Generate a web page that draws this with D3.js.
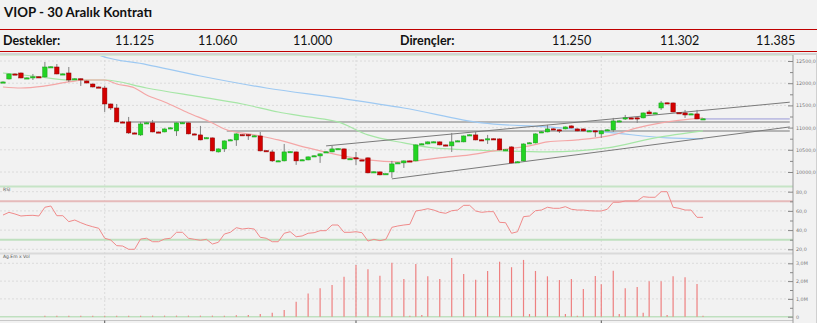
<!DOCTYPE html>
<html>
<head>
<meta charset="utf-8">
<script src="https://cdn.jsdelivr.net/npm/d3@7"></script>
<style>
  body { margin: 0; background: #f2f2f2; }
  svg { display: block; font-family: Lato, sans-serif; }
</style>
</head>
<body>
<div id="chart"></div>
<script>
const title = "VIOP - 30 Aralık Kontratı";
const supportLabel = "Destekler:";
const resistLabel = "Dirençler:";
const supports = ["11.125", "11.060", "11.000"];
const resistances = ["11.250", "11.302", "11.385"];

// candles, one per bar
const opens = [
  12016,12095,12208,12230,12110,12140,12145,12140,12365,12365,
  12205,12230,12090,12100,12050,11982,11915,11892,11532,11442,
  11128,11128,10880,10835,11100,11105,10902,10902,10990,10925,
  11105,11105,10858,10835,10765,10768,10452,10520,10720,10722,
  10840,10840,10812,10812,10480,10452,10245,10250,10452,10452,
  10270,10272,10360,10362,10450,10452,10520,10520,10295,10320,
  10272,10318,9998,10002,9955,10002,10200,10205,10250,10250,
  10628,10632,10675,10678,10610,10588,10698,10678,10832,10835,
  10725,10742,10748,10745,10498,10565,10225,10250,10652,10655,
  10900,10902,10972,10950,10970,11038,10970,10970,10925,10928,
  10858,10945,10948,11148,11215,11218,11220,11218,11352,11328,
  11442,11558,11555,11335,11330,11305,11308,11192
];
const closes = [
  12028,12208,12200,12118,12120,12145,12135,12365,12370,12208,
  12210,12072,12100,12090,12005,11915,11905,11532,11442,11128,
  11120,10880,10870,11082,11108,10902,10895,10970,10995,11105,
  11110,10858,10850,10722,10772,10475,10520,10700,10725,10858,
  10830,10830,10815,10475,10470,10250,10252,10452,10458,10250,
  10275,10340,10365,10408,10455,10520,10525,10295,10300,10312,
  10268,9980,10005,9935,9962,10182,10208,10250,10242,10610,
  10635,10678,10680,10610,10588,10678,10702,10812,10838,10722,
  10718,10748,10742,10498,10502,10205,10230,10632,10658,10858,
  10905,10970,10965,10944,11015,10992,10925,10925,10928,10920,
  10925,10950,11150,11152,11220,11215,11212,11330,11308,11332,
  11555,11550,11352,11328,11285,11310,11195,11198
];
const highs = [
  12040,12219,12220,12240,12130,12208,12150,12478,12380,12432,
  12220,12365,12110,12105,12060,11990,11925,11938,11540,11532,
  11140,11240,10890,11128,11120,11172,10910,10980,11005,11115,
  11120,11115,10865,11038,10780,10775,10530,10710,10735,10870,
  10850,10850,10825,10902,10488,10498,10262,10632,10468,10460,
  10285,10350,10375,10418,10465,10588,10535,10530,10310,10452,
  10280,10328,10015,10010,9972,10250,10218,10260,10258,10620,
  10645,10688,10690,10688,10618,10880,10712,10822,10848,10902,
  10732,10835,10755,10755,10512,10575,10240,10642,10668,10868,
  10915,11060,10980,10958,11025,11048,10978,10978,10938,10935,
  10935,10960,11218,11162,11285,11228,11228,11340,11398,11342,
  11600,11565,11565,11342,11398,11318,11398,11205
];
const lows = [
  12005,12084,12195,12110,12100,12072,12125,12130,12355,12200,
  12195,12028,12080,11938,11995,11905,11895,11352,11398,11120,
  11110,10858,10860,10812,11090,10895,10885,10895,10980,10812,
  11095,10850,10840,10715,10755,10465,10440,10452,10712,10588,
  10820,10722,10800,10465,10460,10228,10238,10240,10445,10160,
  10262,10265,10352,10205,10442,10445,10512,10285,10288,10160,
  10260,9970,9990,9925,9948,9868,10192,10092,10235,10240,
  10620,10625,10668,10600,10580,10452,10690,10670,10825,10715,
  10710,10632,10735,10490,10490,10195,10218,10240,10645,10645,
  10892,10895,10958,10880,10962,10985,10918,10918,10918,10790,
  10768,10938,10902,11140,11172,11208,11105,11210,11300,11320,
  11398,11542,11345,11320,11218,11298,11188,11185
];

const rsi = [
  55.7,58.5,56.8,54.7,55.2,55.4,54.7,63.8,65.1,55.0,
  55.0,48.8,50.5,47.7,45.3,43.5,41.9,31.5,29.7,23.8,
  23.4,20.0,20.0,30.7,31.5,27.9,27.9,30.7,31.5,37.7,
  37.7,31.5,30.4,29.4,30.4,25.5,27.3,35.9,37.7,42.5,
  41.1,41.9,41.1,32.5,31.5,27.9,27.9,36.7,38.3,33.1,
  33.9,36.7,37.3,39.4,39.4,45.3,45.3,37.7,37.7,38.3,
  37.3,28.6,30.4,29.0,30.4,42.9,44.3,45.3,46.0,59.9,
  60.9,62.3,60.9,58.5,57.5,60.2,60.9,65.8,65.8,59.9,
  58.5,59.2,59.2,48.1,47.7,36.7,38.3,54.0,54.7,60.2,
  60.9,63.8,62.7,62.7,64.4,61.7,60.9,60.9,60.2,59.9,
  59.9,61.7,69.0,69.0,70.3,70.3,70.3,74.8,74.2,74.2,
  80.0,80.0,63.8,62.7,60.9,60.9,53.3,53.3
];

// volume in millions
const volume = [
  0,0,0,0,0,0,0,0.06,0,0.06,
  0,0.06,0,0.06,0,0.06,0,0.06,0,0.06,
  0,0.06,0,0.06,0,0.06,0,0.06,0,0.06,
  0,0.06,0,0.06,0,0.06,0,0.06,0,0.08,
  0,0.1,0,0.15,0,0.22,0,0.38,0,0.84,
  0,1.31,0,1.60,0,1.78,0,2.25,0,2.90,
  0,2.66,0,2.30,0,3.03,0,2.12,0.05,2.96,
  0.1,2.27,0,2.12,0,3.30,0,2.40,0,2.08,
  0,2.57,0,3.09,0,2.78,0,3.19,0.15,2.57,
  0,2.27,0,2.06,0.15,2.12,0.05,1.56,0,2.29,
  1.82,0,2.58,0.15,1.60,0,1.67,0.22,1.99,0,
  1.99,0.10,2.27,0,2.21,0,1.84,0.05
];

// moving averages as [bar, value]
const maFast = [[0,11915],[3,11892],[7,11938],[11,12028],[14,12072],[17,12072],[19,11982],[22,11892],[24,11735],[27,11578],[31,11330],[35,11105],[37,10970],[42,10835],[46,10722],[51,10542],[56,10385],[61,10272],[66,10228],[69,10250],[73,10318],[78,10385],[83,10498],[88,10588],[91,10678],[96,10722],[102,10835],[106,10992],[110,11105],[117,11218]];
const maMid = [[0,12230],[5,12162],[11,12072],[17,12072],[24,11892],[33,11690],[40,11532],[46,11352],[51,11240],[56,11128],[61,10835],[67,10655],[72,10542],[83,10475],[91,10452],[101,10542],[109,10768],[117,10925]];
const maSlow = [[15,12700],[16,12635],[24,12420],[33,12162],[44,11892],[56,11668],[67,11442],[80,11105],[91,11015],[102,10880],[111,10768],[117,10745]];

const trendLines = [
  [[54, 10588], [131.5, 11572]],
  [[65, 9845], [131.5, 11015]]
];
const levels = [[21, 11125], [37.4, 10925]];
const lastPrice = [[117, 11195], [131.5, 11195]];

const priceTicks = [10000, 10500, 11000, 11500, 12000, 12500];
const rsiTicks = [20, 40, 60, 80];
const volTicks = [0, 1, 2, 3];
const timeTicks = [17, 59, 100];

const width = 817, height = 323;
const axisX = 793;

const svg = d3.select("#chart").append("svg")
  .attr("width", width).attr("height", height);

svg.append("rect").attr("width", width).attr("height", height).attr("fill", "#f2f2f2");

// header
svg.append("text").attr("x", 4).attr("y", 17)
  .attr("font-size", 13.3).attr("font-weight", "bold").attr("fill", "#111")
  .text(title);

svg.append("line").attr("x1", 0).attr("x2", width).attr("y1", 29.5).attr("y2", 29.5)
  .attr("stroke", "#c00000").attr("stroke-width", 1.2);
svg.append("line").attr("x1", 0).attr("x2", width).attr("y1", 51.5).attr("y2", 51.5)
  .attr("stroke", "#c00000").attr("stroke-width", 1.2);
svg.append("line").attr("x1", 0).attr("x2", width).attr("y1", 54).attr("y2", 54)
  .attr("stroke", "#c8c8c8").attr("stroke-width", 1.5);

const hdr = svg.append("g").attr("font-size", 12.5).attr("fill", "#111");
hdr.append("text").attr("x", 3).attr("y", 45).attr("font-weight", "bold").text(supportLabel);
hdr.append("text").attr("x", 400).attr("y", 45).attr("font-weight", "bold").text(resistLabel);
hdr.selectAll(".sup").data(supports).enter().append("text")
  .attr("x", (d, i) => [115, 198, 293][i]).attr("y", 45).text(d => d);
hdr.selectAll(".res").data(resistances).enter().append("text")
  .attr("x", (d, i) => [552, 660, 756][i]).attr("y", 45).text(d => d);

// scales
const x = d3.scaleLinear().domain([0, 117]).range([3, 703]);
const y = d3.scaleLinear().domain([10000, 12500]).range([172, 61]);
const yRsi = d3.scaleLinear().domain([20, 80]).range([249.3, 191.7]);
const yVol = d3.scaleLinear().domain([0, 3]).range([316.7, 263.3]);

// panel dividers
svg.append("line").attr("x1", 0).attr("x2", axisX).attr("y1", 55.5).attr("y2", 55.5)
  .attr("stroke", "#d4ecd4").attr("stroke-width", 1);
svg.append("line").attr("x1", 0).attr("x2", axisX).attr("y1", 186.5).attr("y2", 186.5)
  .attr("stroke", "#c6e4c6").attr("stroke-width", 2);
svg.append("line").attr("x1", 0).attr("x2", axisX).attr("y1", 253.5).attr("y2", 253.5)
  .attr("stroke", "#dadada").attr("stroke-width", 2);
svg.append("line").attr("x1", 0).attr("x2", axisX).attr("y1", 320.5).attr("y2", 320.5)
  .attr("stroke", "#c8c8c8").attr("stroke-width", 1);

// dotted grid
const grid = svg.append("g").attr("stroke", "#d6d6d6").attr("stroke-dasharray", "2,2").attr("stroke-width", 0.8);
grid.selectAll(".gp").data(priceTicks).enter().append("line")
  .attr("x1", 0).attr("x2", axisX).attr("y1", d => y(d)).attr("y2", d => y(d));
grid.selectAll(".gr").data(rsiTicks).enter().append("line")
  .attr("x1", 0).attr("x2", axisX).attr("y1", d => yRsi(d)).attr("y2", d => yRsi(d));
grid.selectAll(".gv").data(volTicks.slice(1)).enter().append("line")
  .attr("x1", 0).attr("x2", axisX).attr("y1", d => yVol(d)).attr("y2", d => yVol(d));
grid.selectAll(".gt").data(timeTicks).enter().append("line")
  .attr("x1", d => x(d)).attr("x2", d => x(d)).attr("y1", 56).attr("y2", 320);

// main panel
svg.append("clipPath").attr("id", "mainClip")
  .append("rect").attr("x", 0).attr("y", 56).attr("width", axisX).attr("height", 129);
const main = svg.append("g").attr("clip-path", "url(#mainClip)");

const line = d3.line().x(d => x(d[0])).y(d => y(d[1]));
const smooth = d3.line().x(d => x(d[0])).y(d => y(d[1])).curve(d3.curveMonotoneX);

main.selectAll(".level").data(levels).enter().append("line")
  .attr("x1", d => x(d[0])).attr("x2", x(131.5))
  .attr("y1", d => y(d[1])).attr("y2", d => y(d[1]))
  .attr("stroke", "#a0a0a0").attr("stroke-width", 1.5);
main.append("path").attr("d", line(lastPrice))
  .attr("fill", "none").attr("stroke", "#9a9ad8").attr("stroke-width", 1);

[[maSlow, "#9ec9f2"], [maMid, "#a6e6a6"], [maFast, "#f4a6a6"]].forEach(([d, c]) => {
  main.append("path").attr("d", smooth(d))
    .attr("fill", "none").attr("stroke", c).attr("stroke-width", 1.2);
});

main.selectAll(".trend").data(trendLines).enter().append("path")
  .attr("d", d => line(d))
  .attr("fill", "none").attr("stroke", "#7a7a7a").attr("stroke-width", 1);

const bars = d3.range(opens.length);
main.selectAll(".wick").data(bars).enter().append("line")
  .attr("x1", i => x(i)).attr("x2", i => x(i))
  .attr("y1", i => y(highs[i])).attr("y2", i => y(lows[i]))
  .attr("stroke", "#808080").attr("stroke-width", 1);

main.selectAll(".body").data(bars).enter().append("rect")
  .attr("x", i => x(i) - 2.2)
  .attr("width", 4.4)
  .attr("y", i => y(Math.max(opens[i], closes[i])))
  .attr("height", i => Math.max(1.2, Math.abs(y(opens[i]) - y(closes[i]))))
  .attr("fill", i => closes[i] >= opens[i] ? "#22d422" : "#d40000")
  .attr("stroke", i => closes[i] >= opens[i] ? "#1a9a1a" : "#8a0000")
  .attr("stroke-width", 0.5);

// rsi panel
svg.append("text").attr("x", 3).attr("y", 191).attr("font-size", 4.5)
  .attr("font-family", "DejaVu Sans").attr("fill", "#555").text("RSI");
svg.append("line").attr("x1", 0).attr("x2", axisX).attr("y1", yRsi(70)).attr("y2", yRsi(70))
  .attr("stroke", "#e6baba").attr("stroke-width", 2);
svg.append("line").attr("x1", 0).attr("x2", axisX).attr("y1", yRsi(30)).attr("y2", yRsi(30))
  .attr("stroke", "#bfe0bf").attr("stroke-width", 2);
svg.append("path")
  .attr("d", d3.line().x((d, i) => x(i)).y(d => yRsi(d))(rsi))
  .attr("fill", "none").attr("stroke", "#f08a8a").attr("stroke-width", 1);

// volume panel
svg.append("text").attr("x", 3).attr("y", 258).attr("font-size", 4.5)
  .attr("font-family", "DejaVu Sans").attr("fill", "#555").text("Ag.Em x Vol");
svg.append("line").attr("x1", 0).attr("x2", axisX).attr("y1", yVol(0)).attr("y2", yVol(0))
  .attr("stroke", "#bfe0bf").attr("stroke-width", 1.5);
svg.selectAll(".vol").data(bars.filter(i => volume[i] > 0)).enter().append("line")
  .attr("x1", i => x(i)).attr("x2", i => x(i))
  .attr("y1", yVol(0)).attr("y2", i => yVol(volume[i]))
  .attr("stroke", "#ee8080").attr("stroke-width", 1.2);

// right axes
svg.append("line").attr("x1", axisX).attr("x2", axisX).attr("y1", 55).attr("y2", height)
  .attr("stroke", "#9a9a9a").attr("stroke-width", 1);
svg.append("line").attr("x1", width - 0.5).attr("x2", width - 0.5).attr("y1", 55).attr("y2", height)
  .attr("stroke", "#d0d0d0");

function rightAxis(scale, ticks, fmt, minor) {
  const g = svg.append("g").attr("transform", `translate(${axisX},0)`)
    .call(d3.axisRight(scale).tickValues(ticks).tickFormat(fmt)
      .tickSizeInner(-5).tickSizeOuter(0).tickPadding(3));
  g.select(".domain").remove();
  g.selectAll("line").attr("stroke", "#888");
  g.selectAll("text").attr("font-size", 4.8).attr("font-family", "DejaVu Sans").attr("fill", "#777");
  const m = svg.append("g").attr("transform", `translate(${axisX},0)`)
    .call(d3.axisRight(scale).tickValues(minor).tickFormat("").tickSizeInner(-3).tickSizeOuter(0));
  m.select(".domain").remove();
  m.selectAll("line").attr("stroke", "#888");
}
rightAxis(y, priceTicks, d => d + ",0", [10250, 10750, 11250, 11750, 12250]);
rightAxis(yRsi, rsiTicks, d => d + ",0", [30, 50, 70]);
rightAxis(yVol, volTicks, d => d === 0 ? "0" : d + ",0M", [0.5, 1.5, 2.5]);

// bottom time ticks
svg.append("g").selectAll("line").data(timeTicks).enter().append("line")
  .attr("x1", d => x(d)).attr("x2", d => x(d)).attr("y1", 320.5).attr("y2", 323)
  .attr("stroke", "#555");
</script>
</body>
</html>
